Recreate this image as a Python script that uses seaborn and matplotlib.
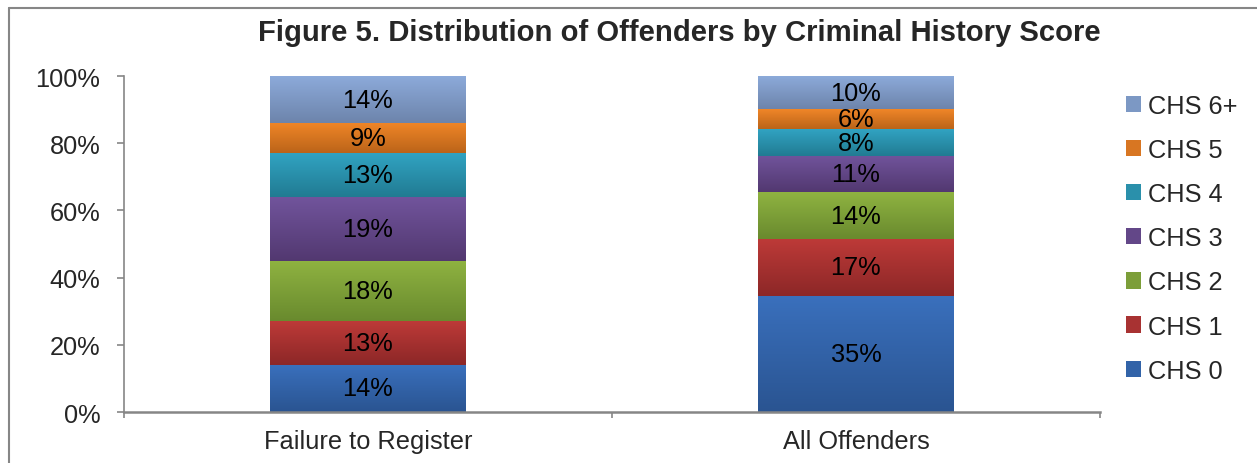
import numpy as np
import pandas as pd
import matplotlib
matplotlib.use("Agg")
import matplotlib.pyplot as plt
import seaborn as sns
from matplotlib.colors import LinearSegmentedColormap
from matplotlib.patches import Patch
from matplotlib.lines import Line2D

# Data
groups = ["Failure to Register", "All Offenders"]
scores = ["CHS 0", "CHS 1", "CHS 2", "CHS 3", "CHS 4", "CHS 5", "CHS 6+"]
failure_to_register = [14, 13, 18, 19, 13, 9, 14]
all_offenders = [35, 17, 14, 11, 8, 6, 10]

# Excel-like gradient colors per score (top -> bottom of each segment)
top_colors = ["#3a70bd", "#bd3a38", "#8fb341", "#71549c", "#31a3c2", "#f08628", "#8dabdb"]
bottom_colors = ["#2a5491", "#8c2727", "#698a2e", "#523870", "#217b92", "#bb6419", "#6d84ab"]
mid_colors = ["#3263a8", "#a83232", "#7c9e39", "#634788", "#2a90ab", "#d87622", "#7c98c4"]

df = pd.DataFrame({
    "group": np.repeat(groups, len(scores)),
    "score": scores * len(groups),
    "value": failure_to_register + all_offenders,
})
# 100% stacked, like Excel
df["share"] = df["value"] / df.groupby("group")["value"].transform("sum") * 100
df["cum"] = df.groupby("group")["share"].cumsum()
df["base"] = df["cum"] - df["share"]

sns.set_style("white")
plt.rcParams["font.family"] = ["Liberation Sans", "DejaVu Sans"]
fs = 18.3
gray = "#868686"

fig = plt.figure(figsize=(12.57, 4.64), dpi=100)
ax = fig.add_axes([0.0986, 0.1099, 0.7764, 0.7241])

# draw cumulative bars from the top layer down so lower layers sit in front
for i in reversed(range(len(scores))):
    sub = df[df["score"] == scores[i]]
    n_before = len(ax.patches)
    sns.barplot(data=sub, x="group", y="cum", order=groups, color=mid_colors[i],
                saturation=1, width=0.4, linewidth=0, ax=ax)
    cmap = LinearSegmentedColormap.from_list(scores[i], [bottom_colors[i], top_colors[i]])
    grad = np.linspace(0, 1, 256).reshape(-1, 1)
    for p, (_, row) in zip(ax.patches[n_before:], sub.set_index("group").loc[groups].iterrows()):
        x0, w = p.get_x(), p.get_width()
        ax.imshow(grad, cmap=cmap, origin="lower", aspect="auto", interpolation="bicubic",
                  extent=[x0, x0 + w, row["base"], row["cum"]], zorder=2 + i * 0.01)
        ax.text(x0 + w / 2, (row["base"] + row["cum"]) / 2, f"{row['value']}%",
                ha="center", va="center", fontsize=fs, color="black", zorder=5)

ax.set_xlim(-0.5, 1.5)
ax.set_ylim(0, 100)
ax.set_xlabel("")
ax.set_ylabel("")

ax.set_yticks(range(0, 101, 20))
ax.set_yticklabels([f"{v}%" for v in range(0, 101, 20)])
ax.tick_params(axis="y", length=5, width=1.2, color=gray, labelsize=fs, pad=12, left=True)
ax.set_xticks([0, 1])
ax.set_xticks([-0.5, 0.5, 1.5], minor=True)
ax.tick_params(axis="x", which="major", length=0, labelsize=fs, pad=12)
ax.tick_params(axis="x", which="minor", length=4.5, width=1.2, color=gray, bottom=True)

for side in ["top", "right"]:
    ax.spines[side].set_visible(False)
for side in ["left", "bottom"]:
    ax.spines[side].set_color(gray)
    ax.spines[side].set_linewidth(1.2)
ax.spines["bottom"].set_linewidth(1.8)

fig.text(0.5406, 0.928, "Figure 5. Distribution of Offenders by Criminal History Score",
         ha="center", va="center", fontsize=21.1, fontweight="bold")

handles = [Patch(facecolor=mid_colors[i], edgecolor="none", label=scores[i])
           for i in reversed(range(len(scores)))]
fig.legend(handles=handles, loc="upper left", bbox_to_anchor=(0.8958, 0.795),
           frameon=False, fontsize=fs, borderpad=0, borderaxespad=0,
           handlelength=0.6, handleheight=0.6, handletextpad=0.25, labelspacing=0.79)

# outer chart border (Excel chart area)
fig.add_artist(Line2D([0.0072, 0.0072], [0, 0.9806], color=gray, lw=1.5))
fig.add_artist(Line2D([0.0072, 1], [0.9806, 0.9806], color=gray, lw=1.5))

fig.savefig("out.png", dpi=100)
